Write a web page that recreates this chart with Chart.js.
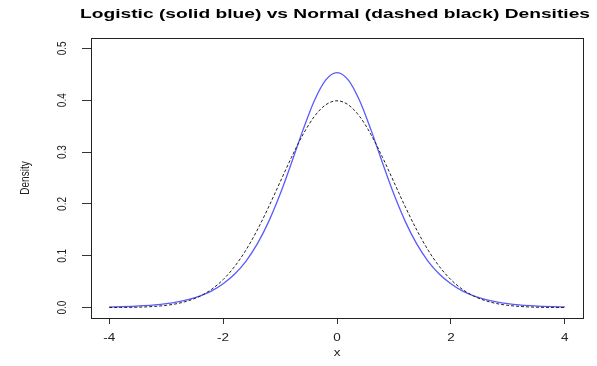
<!DOCTYPE html>
<html>
<head>
<meta charset="utf-8">
<script src="https://cdn.jsdelivr.net/npm/chart.js@4"></script>
<style>
  html, body { margin: 0; padding: 0; background: #fff; }
  #wrap { width: 597px; height: 366px; }
</style>
</head>
<body>
<div id="wrap"><canvas id="densityChart" width="597" height="366"></canvas></div>
<script>
// x grid, values (symmetric curves, x from -4 to 4)
const xValues = [-4, -3.8, -3.6, -3.4, -3.2, -3, -2.8, -2.6, -2.4, -2.2, -2, -1.8, -1.6, -1.4, -1.2, -1, -0.8, -0.6, -0.4, -0.2,
  0, 0.2, 0.4, 0.6, 0.8, 1, 1.2, 1.4, 1.6, 1.8, 2, 2.2, 2.4, 2.6, 2.8, 3, 3.2, 3.4, 3.6, 3.8, 4];

const logisticHalf = [0.4534, 0.4388, 0.3986, 0.3418, 0.2788, 0.2185, 0.1659, 0.1229, 0.0894, 0.0644,
  0.0461, 0.0323, 0.0228, 0.0160, 0.0112, 0.0078, 0.0054, 0.0038, 0.0026, 0.0018, 0.0013];
const normalHalf = [0.3989, 0.3910, 0.3683, 0.3332, 0.2897, 0.2420, 0.1942, 0.1497, 0.1109, 0.0790,
  0.0540, 0.0355, 0.0224, 0.0136, 0.0079, 0.0044, 0.0024, 0.0012, 0.0006, 0.0003, 0.0001];

// full series (left half is the mirror of the right half)
const logisticValues = logisticHalf.slice(1).reverse().concat(logisticHalf);
const normalValues = normalHalf.slice(1).reverse().concat(normalHalf);

const xTicks = [-4, -2, 0, 2, 4];
const yTicks = [0, 0.1, 0.2, 0.3, 0.4, 0.5];
const xTickLabels = ['-4', '-2', '0', '2', '4'];
const yTickLabels = ['0.0', '0.1', '0.2', '0.3', '0.4', '0.5'];

const titleText = 'Logistic (solid blue) vs Normal (dashed black) Densities';
const xTitle = 'x';
const yTitle = 'Density';

const STRETCH = 1.35; // the picture is widened horizontally

// draws the box, the labels and the title, R style
const rFrame = {
  id: 'rFrame',
  afterDraw(chart) {
    const ctx = chart.ctx;
    const a = chart.chartArea;
    const xs = chart.scales.x, ys = chart.scales.y;
    ctx.save();
    ctx.strokeStyle = '#222';
    ctx.lineWidth = 1;
    ctx.strokeRect(Math.round(a.left) + 0.5, Math.round(a.top) + 0.5,
      Math.round(a.right - a.left), Math.round(a.bottom - a.top));

    ctx.fillStyle = '#222';
    ctx.textAlign = 'center';
    ctx.textBaseline = 'middle';

    // x tick labels
    ctx.font = '10px "Liberation Sans", Arial, sans-serif';
    xTicks.forEach((v, i) => {
      ctx.save();
      ctx.translate(xs.getPixelForValue(v), 338);
      ctx.scale(STRETCH, 1);
      ctx.fillText(xTickLabels[i], 0, 0);
      ctx.restore();
    });
    // y tick labels, rotated
    yTicks.forEach((v, i) => {
      ctx.save();
      ctx.translate(62, ys.getPixelForValue(v));
      ctx.scale(STRETCH, 1);
      ctx.rotate(-Math.PI / 2);
      ctx.fillText(yTickLabels[i], 0, 0);
      ctx.restore();
    });
    // axis titles
    ctx.save();
    ctx.translate((a.left + a.right) / 2, 353);
    ctx.scale(STRETCH, 1);
    ctx.fillText(xTitle, 0, 0);
    ctx.restore();

    ctx.save();
    ctx.translate(25, (a.top + a.bottom) / 2);
    ctx.scale(STRETCH, 1);
    ctx.rotate(-Math.PI / 2);
    ctx.fillText(yTitle, 0, 0);
    ctx.restore();

    // main title, widened to the width it has in the picture
    ctx.fillStyle = '#000';
    ctx.font = 'bold 13px "Liberation Sans", Arial, sans-serif';
    const tw = ctx.measureText(titleText).width;
    ctx.save();
    ctx.translate(335, 14);
    ctx.scale(510 / tw, 1);
    ctx.fillText(titleText, 0, 0);
    ctx.restore();
    ctx.restore();
  }
};

document.addEventListener('DOMContentLoaded', () => {
  const ctx = document.getElementById('densityChart').getContext('2d');
  new Chart(ctx, {
    type: 'line',
    data: {
      datasets: [
        {
          label: 'Normal',
          data: xValues.map((x, i) => ({ x, y: normalValues[i] })),
          borderColor: '#222',
          borderWidth: 1,
          borderDash: [3, 2],
          pointRadius: 0,
          fill: false,
          cubicInterpolationMode: 'monotone'
        },
        {
          label: 'Logistic',
          data: xValues.map((x, i) => ({ x, y: logisticValues[i] })),
          borderColor: '#5a5aff',
          borderWidth: 1.3,
          pointRadius: 0,
          fill: false,
          cubicInterpolationMode: 'monotone'
        }
      ]
    },
    options: {
      responsive: false,
      animation: false,
      events: [],
      layout: { padding: { left: 0, top: 38, right: 14, bottom: 0 } },
      plugins: { legend: { display: false }, title: { display: false }, tooltip: { enabled: false } },
      scales: {
        x: {
          type: 'linear',
          min: -4.32,
          max: 4.32,
          afterBuildTicks: s => { s.ticks = xTicks.map(v => ({ value: v })); },
          afterFit: s => { s.height = 48; },
          ticks: { display: false },
          grid: { drawOnChartArea: false, drawTicks: true, tickLength: 6, tickColor: '#333' },
          border: { display: false }
        },
        y: {
          type: 'linear',
          min: -0.02,
          max: 0.52,
          afterBuildTicks: s => { s.ticks = yTicks.map(v => ({ value: v })); },
          afterFit: s => { s.width = 91; },
          ticks: { display: false },
          grid: { drawOnChartArea: false, drawTicks: true, tickLength: 9, tickColor: '#333' },
          border: { display: false }
        }
      }
    },
    plugins: [rFrame]
  });
});
</script>
</body>
</html>
